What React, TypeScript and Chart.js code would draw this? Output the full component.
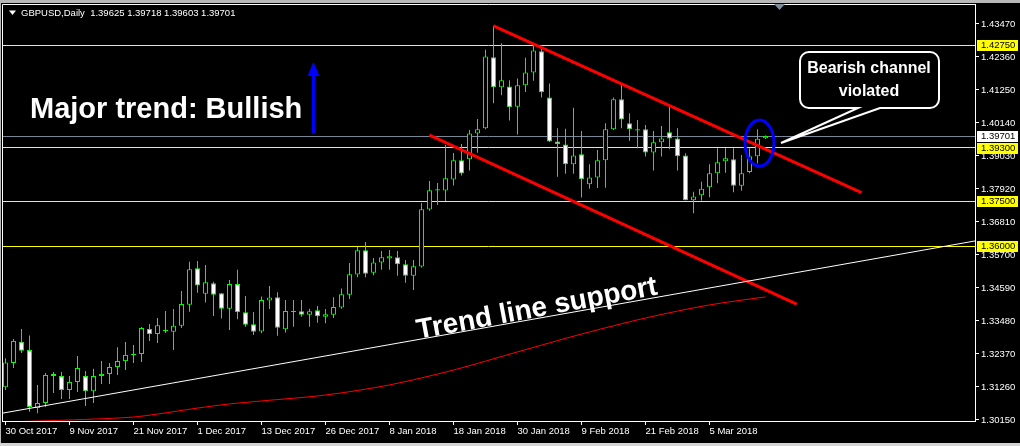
import React, { useEffect, useRef } from "react";
import { Chart, registerables } from "chart.js";

Chart.register(...registerables);

// ---------- data ----------
const opens = [
  1.3125, 1.3207, 1.3278, 1.3250, 1.3055, 1.3072, 1.3170, 1.3163, 1.3116, 1.3143,
  1.3163, 1.3112, 1.3163, 1.3170, 1.3193, 1.3213, 1.3234, 1.3237, 1.3321, 1.3304,
  1.3314, 1.3312, 1.3332, 1.3403, 1.3525, 1.3440, 1.3475, 1.3441, 1.3389, 1.3472,
  1.3377, 1.3337, 1.3313, 1.3417, 1.3428, 1.3320, 1.3378, 1.3381, 1.3369, 1.3384,
  1.3362, 1.3369, 1.3393, 1.3436, 1.3504, 1.3586, 1.3510, 1.3545, 1.3558, 1.3562,
  1.3539, 1.3500, 1.3531, 1.3723, 1.3787, 1.3787, 1.3824, 1.3889, 1.3892, 1.3979,
  1.3996, 1.4235, 1.4134, 1.4137, 1.4069, 1.4141, 1.4184, 1.4255, 1.4100, 1.3952,
  1.3942, 1.3875, 1.3909, 1.3808, 1.3831, 1.3889, 1.3993, 1.4094, 1.4013, 1.3989,
  1.3993, 1.3915, 1.3949, 1.3983, 1.3962, 1.3905, 1.3754, 1.3771, 1.3798, 1.3845,
  1.3885, 1.3892, 1.3803, 1.3849, 1.3902, 1.39625,
];
const highs = [
  1.3223, 1.3287, 1.3321, 1.3299, 1.3133, 1.3173, 1.3176, 1.3176, 1.3163, 1.3230,
  1.3180, 1.3187, 1.3213, 1.3207, 1.3260, 1.3277, 1.3267, 1.3328, 1.3338, 1.3358,
  1.3382, 1.3388, 1.3449, 1.3547, 1.3550, 1.3536, 1.3480, 1.3442, 1.3486, 1.3520,
  1.3432, 1.3378, 1.3430, 1.3466, 1.3445, 1.3419, 1.3419, 1.3419, 1.3389, 1.3398,
  1.3388, 1.3428, 1.3457, 1.3543, 1.3597, 1.3614, 1.3560, 1.3583, 1.3587, 1.3583,
  1.3553, 1.3553, 1.3745, 1.3819, 1.3812, 1.3940, 1.3913, 1.3943, 1.3990, 1.4027,
  1.4260, 1.4341, 1.4282, 1.4158, 1.4164, 1.4233, 1.4276, 1.4276, 1.4147, 1.3996,
  1.3995, 1.4065, 1.3987, 1.3875, 1.3923, 1.4013, 1.4100, 1.4144, 1.4047, 1.4024,
  1.4007, 1.3987, 1.4004, 1.4069, 1.3996, 1.3912, 1.3783, 1.3816, 1.3875, 1.3929,
  1.3929, 1.3929, 1.3906, 1.3929, 1.3993, 1.39718,
];
const lows = [
  1.3116, 1.3190, 1.3240, 1.3043, 1.3038, 1.3059, 1.3106, 1.3086, 1.3086, 1.3109,
  1.3062, 1.3072, 1.3136, 1.3136, 1.3166, 1.3183, 1.3207, 1.3210, 1.3281, 1.3274,
  1.3308, 1.3250, 1.3324, 1.3379, 1.3443, 1.3410, 1.3365, 1.3356, 1.3318, 1.3354,
  1.3329, 1.3301, 1.3307, 1.3388, 1.3298, 1.3309, 1.3329, 1.3362, 1.3329, 1.3342,
  1.3340, 1.3358, 1.3389, 1.3422, 1.3495, 1.3495, 1.3502, 1.3520, 1.3520, 1.3500,
  1.3477, 1.3452, 1.3528, 1.3719, 1.3738, 1.3752, 1.3804, 1.3837, 1.3854, 1.3914,
  1.3993, 1.4080, 1.4107, 1.4022, 1.3975, 1.4118, 1.4156, 1.4100, 1.3950, 1.3833,
  1.3843, 1.3843, 1.3763, 1.3793, 1.3795, 1.3796, 1.3990, 1.3996, 1.3954, 1.3929,
  1.3901, 1.3854, 1.3901, 1.3926, 1.3854, 1.3754, 1.3710, 1.3753, 1.3764, 1.3811,
  1.3847, 1.3781, 1.3786, 1.3845, 1.3878, 1.39603,
];
const closes = [
  1.3208, 1.3281, 1.3248, 1.3059, 1.3072, 1.3166, 1.3163, 1.3116, 1.3143, 1.3190,
  1.3112, 1.3163, 1.3170, 1.3193, 1.3213, 1.3234, 1.3237, 1.3324, 1.3304, 1.3334,
  1.3318, 1.3332, 1.3405, 1.3522, 1.3467, 1.3478, 1.3436, 1.3389, 1.3472, 1.3377,
  1.3335, 1.3312, 1.3419, 1.3427, 1.3325, 1.3382, 1.3382, 1.3369, 1.3381, 1.3364,
  1.3371, 1.3395, 1.3438, 1.3505, 1.3586, 1.3507, 1.3545, 1.3562, 1.3566, 1.3539,
  1.3500, 1.3532, 1.3724, 1.3788, 1.3791, 1.3828, 1.3889, 1.3844, 1.3979, 1.3993,
  1.4238, 1.4134, 1.4158, 1.4067, 1.4141, 1.4184, 1.4258, 1.4117, 1.3952, 1.3943,
  1.3875, 1.3905, 1.3825, 1.3831, 1.3889, 1.3993, 1.4094, 1.4026, 1.3993, 1.3993,
  1.3915, 1.3949, 1.3962, 1.3962, 1.3902, 1.3754, 1.3767, 1.3793, 1.3845, 1.3882,
  1.3895, 1.3803, 1.3845, 1.3902, 1.3961, 1.39701,
];

const dateTickIndex = [0, 8, 16, 24, 32, 40, 48, 56, 64, 72, 80, 88];
const dateTickLabels = [
  "30 Oct 2017", "9 Nov 2017", "21 Nov 2017", "1 Dec 2017", "13 Dec 2017", "26 Dec 2017",
  "8 Jan 2018", "18 Jan 2018", "30 Jan 2018", "9 Feb 2018", "21 Feb 2018", "5 Mar 2018",
];
const priceTicks = [
  1.3015, 1.3126, 1.3237, 1.3348, 1.3459, 1.357, 1.3681, 1.3792, 1.3903, 1.4014, 1.4125, 1.4236, 1.4347,
];

const levelLines = [1.4275, 1.393, 1.375, 1.36];
const bidPrice = 1.39701;

const upperChannelX = [61, 107.0];
const upperChannelY = [1.4341, 1.378];
const lowerChannelX = [53, 98.9];
const lowerChannelY = [1.3973, 1.3405];
const supportLineX = [-1, 122];
const supportLineY = [1.3035, 1.3621];

const maIndex = [0, 11, 16, 19, 24, 28, 32, 40, 48, 56, 64, 72, 80, 88, 95];
const maValues = [1.3008, 1.3018, 1.3025, 1.3035, 1.3055, 1.3069, 1.3079, 1.3099, 1.3133, 1.3183, 1.3244, 1.3304, 1.3358, 1.3402, 1.3429];

const headerText = "GBPUSD,Daily  1.39625 1.39718 1.39603 1.39701";

// ---------- styling constants ----------
const LIME = "#00ff00";
const AXIS_FONT = { family: "Liberation Sans", size: 9.5 };
const Y_MIN = 1.30116;
const Y_MAX = 1.44142;

const decorPlugin = {
  id: "decor",
  beforeDraw(chart: any) {
    const { ctx, width, height } = chart;
    ctx.save();
    ctx.fillStyle = "#000";
    ctx.fillRect(0, 0, width, height);
    ctx.restore();
  },
  afterDraw(chart: any) {
    const { ctx, chartArea: a, scales, width, height } = chart;
    const ys = scales.y;
    ctx.save();

    // frame (top & left)
    ctx.strokeStyle = "#fff";
    ctx.lineWidth = 1;
    ctx.beginPath();
    ctx.moveTo(a.left + 0.5, a.bottom);
    ctx.lineTo(a.left + 0.5, a.top + 0.5);
    ctx.lineTo(a.right, a.top + 0.5);
    ctx.stroke();

    // window chrome
    ctx.fillStyle = "#b8b8b8";
    ctx.fillRect(0, 0, width, 3);
    ctx.fillRect(0, 0, 1, height);
    ctx.fillStyle = "#d4d4d4";
    ctx.fillRect(0, height - 3, width, 3);

    // chart shift marker
    ctx.fillStyle = "#7f8c99";
    ctx.beginPath();
    ctx.moveTo(774, 4);
    ctx.lineTo(785, 4);
    ctx.lineTo(779.5, 10);
    ctx.closePath();
    ctx.fill();

    // header
    ctx.fillStyle = "#fff";
    ctx.beginPath();
    ctx.moveTo(9, 10.5);
    ctx.lineTo(16, 10.5);
    ctx.lineTo(12.5, 15);
    ctx.closePath();
    ctx.fill();
    ctx.font = '9.5px "Liberation Sans"';
    ctx.textBaseline = "middle";
    ctx.textAlign = "left";
    ctx.fillText(headerText, 21, 13);

    // highlighted price labels on the axis
    const boxes: [number, string][] = levelLines.map((v) => [v, "#ffff00"] as [number, string]);
    boxes.push([bidPrice, "#ffffff"]);
    boxes.forEach(([v, col]) => {
      const py = Math.round(ys.getPixelForValue(v));
      ctx.fillStyle = col;
      ctx.fillRect(977, py - 5, 41, 11);
      ctx.fillStyle = "#000";
      ctx.fillText(v.toFixed(5), 981, py + 0.5);
    });

    // "Major trend: Bullish"
    ctx.fillStyle = "#fff";
    ctx.font = 'bold 29px "Liberation Sans"';
    ctx.textBaseline = "alphabetic";
    ctx.fillText("Major trend: Bullish", 30, 118);

    // blue arrow
    ctx.strokeStyle = "#0000ff";
    ctx.fillStyle = "#0000ff";
    ctx.lineWidth = 3;
    ctx.beginPath();
    ctx.moveTo(313.5, 133);
    ctx.lineTo(313.5, 72);
    ctx.stroke();
    ctx.beginPath();
    ctx.moveTo(313.5, 62);
    ctx.lineTo(307.5, 76);
    ctx.lineTo(319.5, 76);
    ctx.closePath();
    ctx.fill();

    // "Trend line support"
    ctx.save();
    ctx.translate(537, 309);
    ctx.rotate((-10.5 * Math.PI) / 180);
    ctx.fillStyle = "#fff";
    ctx.font = 'bold 28px "Liberation Sans"';
    ctx.textAlign = "center";
    ctx.textBaseline = "middle";
    ctx.fillText("Trend line support", 0, 0);
    ctx.restore();

    // blue ellipse
    ctx.strokeStyle = "#0000ff";
    ctx.lineWidth = 3;
    ctx.beginPath();
    ctx.ellipse(759.5, 143, 14.5, 23, 0, 0, Math.PI * 2);
    ctx.stroke();

    // callout
    const bx = 800, by = 52, bw = 139, bh = 56, r = 9;
    ctx.fillStyle = "#000";
    ctx.strokeStyle = "#fff";
    ctx.lineWidth = 2;
    ctx.beginPath();
    ctx.moveTo(bx + r, by);
    ctx.lineTo(bx + bw - r, by);
    ctx.arcTo(bx + bw, by, bx + bw, by + r, r);
    ctx.lineTo(bx + bw, by + bh - r);
    ctx.arcTo(bx + bw, by + bh, bx + bw - r, by + bh, r);
    ctx.lineTo(880, by + bh);
    ctx.lineTo(781, 143);
    ctx.lineTo(858, by + bh);
    ctx.lineTo(bx + r, by + bh);
    ctx.arcTo(bx, by + bh, bx, by + bh - r, r);
    ctx.lineTo(bx, by + r);
    ctx.arcTo(bx, by, bx + r, by, r);
    ctx.closePath();
    ctx.fill();
    ctx.stroke();
    ctx.fillStyle = "#fff";
    ctx.font = 'bold 16px "Liberation Sans"';
    ctx.textAlign = "center";
    ctx.textBaseline = "middle";
    ctx.fillText("Bearish channel", 869, 69);
    ctx.fillText("violated", 869, 92);

    ctx.restore();
  },
};

export default function App() {
  const canvasRef = useRef<HTMLCanvasElement | null>(null);

  useEffect(() => {
    document.body.style.margin = "0";
    document.body.style.background = "#000";
    const canvas = canvasRef.current;
    if (!canvas) return;

    const idx = opens.map((_, i) => i);
    const bodyData = idx.map((i) => ({ x: i, y: [opens[i], closes[i]] }));
    const wickData = idx.map((i) => ({ x: i, y: [lows[i], highs[i]] }));
    const bodyColors = idx.map((i) => (closes[i] < opens[i] ? "#ffffff" : "#000000"));

    const datasets: any[] = [
      {
        type: "line",
        data: supportLineX.map((x, i) => ({ x, y: supportLineY[i] })),
        borderColor: "#ffffff",
        borderWidth: 1,
        pointRadius: 0,
        order: 0,
      },
      {
        type: "line",
        data: maIndex.map((x, i) => ({ x, y: maValues[i] })),
        borderColor: "#ff0000",
        borderWidth: 1,
        pointRadius: 0,
        tension: 0.3,
        order: 0,
      },
      {
        type: "line",
        data: upperChannelX.map((x, i) => ({ x, y: upperChannelY[i] })),
        borderColor: "#ff0000",
        borderWidth: 3,
        pointRadius: 0,
        order: 0,
      },
      {
        type: "line",
        data: lowerChannelX.map((x, i) => ({ x, y: lowerChannelY[i] })),
        borderColor: "#ff0000",
        borderWidth: 3,
        pointRadius: 0,
        order: 0,
      },
      {
        type: "bar",
        data: bodyData,
        backgroundColor: bodyColors,
        borderColor: LIME,
        borderWidth: 1,
        borderSkipped: false,
        barThickness: 5,
        grouped: false,
        inflateAmount: 0,
        order: 1,
      },
      {
        type: "bar",
        data: wickData,
        backgroundColor: LIME,
        borderWidth: 0,
        barThickness: 1,
        grouped: false,
        inflateAmount: 0,
        order: 2,
      },
    ];

    const chart = new Chart(canvas, {
      type: "bar",
      data: { datasets },
      plugins: [decorPlugin],
      options: {
        responsive: false,
        animation: false,
        devicePixelRatio: 1,
        events: [],
        layout: { padding: { top: 4, left: 2, right: 0, bottom: 0 } },
        plugins: { legend: { display: false }, tooltip: { enabled: false } },
        scales: {
          x: {
            type: "linear",
            position: "bottom",
            min: -0.4375,
            max: 121.1875,
            offset: false,
            bounds: "data",
            grid: {
              display: true,
              drawOnChartArea: false,
              drawTicks: true,
              tickLength: 4,
              tickColor: "#ffffff",
              offset: false,
            },
            border: { display: true, color: "#ffffff", width: 1 },
            ticks: {
              autoSkip: false,
              maxRotation: 0,
              minRotation: 0,
              align: "start",
              padding: 1,
              color: "#ffffff",
              font: AXIS_FONT,
              callback: (_v: any, i: number) => dateTickLabels[i],
            },
            afterBuildTicks: (s: any) => {
              s.ticks = dateTickIndex.map((v) => ({ value: v }));
            },
            afterFit: (s: any) => {
              s.height = 25;
              s.paddingLeft = 0;
              s.paddingRight = 0;
            },
          },
          y: {
            type: "linear",
            position: "right",
            min: Y_MIN,
            max: Y_MAX,
            bounds: "data",
            grid: {
              display: true,
              drawOnChartArea: false,
              drawTicks: true,
              tickLength: 4,
              tickColor: "#ffffff",
            },
            border: { display: true, color: "#ffffff", width: 1 },
            ticks: {
              autoSkip: false,
              padding: 2,
              color: "#ffffff",
              font: AXIS_FONT,
              callback: (v: any) => Number(v).toFixed(5),
            },
            afterBuildTicks: (s: any) => {
              s.ticks = priceTicks.map((v) => ({ value: v }));
            },
            afterFit: (s: any) => {
              s.width = 45;
              s.paddingTop = 0;
              s.paddingBottom = 0;
            },
          },
          yLevels: {
            type: "linear",
            position: "left",
            min: Y_MIN,
            max: Y_MAX,
            bounds: "data",
            z: 1,
            grid: {
              display: true,
              drawOnChartArea: true,
              drawTicks: false,
              lineWidth: 1,
              color: (c: any) => (c.tick && c.tick.value === bidPrice ? "#778899" : "#ffff00"),
            },
            border: { display: false },
            ticks: { display: false, autoSkip: false },
            afterBuildTicks: (s: any) => {
              s.ticks = [...levelLines, bidPrice].map((v) => ({ value: v }));
            },
            afterFit: (s: any) => {
              s.width = 0;
              s.paddingTop = 0;
              s.paddingBottom = 0;
            },
          },
        },
      } as any,
    } as any);

    return () => chart.destroy();
  }, []);

  return (
    <div style={{ position: "fixed", left: 0, top: 0, width: 1020, height: 446, background: "#000" }}>
      <canvas ref={canvasRef} width={1020} height={446} style={{ width: 1020, height: 446, display: "block" }} />
    </div>
  );
}
